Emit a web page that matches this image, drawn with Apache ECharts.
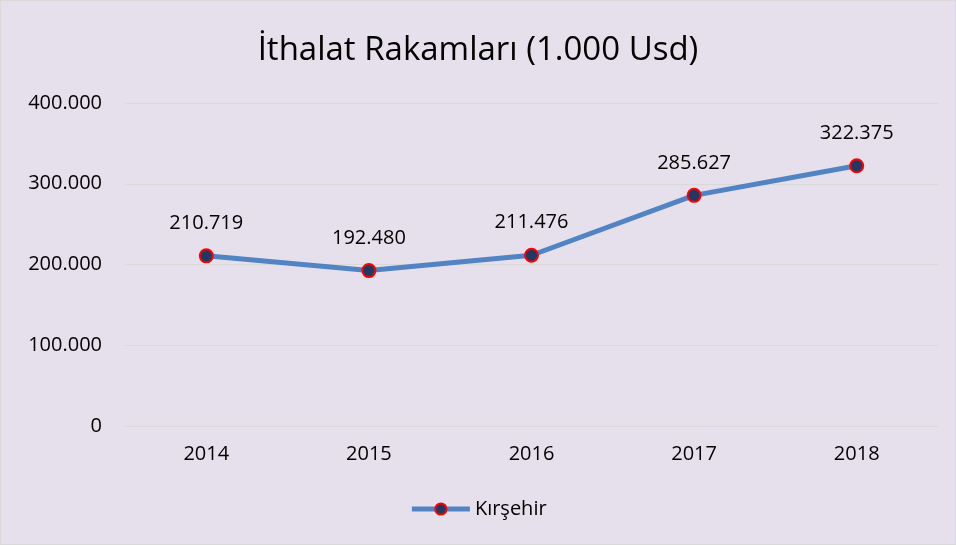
<!DOCTYPE html>
<html>
<head>
<meta charset="utf-8">
<script src="https://cdn.jsdelivr.net/npm/echarts@6/dist/echarts.min.js"></script>
<style>
  html, body { margin: 0; padding: 0; background: #fff; }
  #app { width: 954px; height: 543px; border: 1px solid #d9d9d9; background: #e6e0ec; }
</style>
</head>
<body>
<div id="app"></div>
<script>
const years = ['2014', '2015', '2016', '2017', '2018'];
const kirsehir = [210719, 192480, 211476, 285627, 322375];
const yTicks = [0, 100000, 200000, 300000, 400000];

const fmt = v => v === 0 ? '0' : String(v).replace(/\B(?=(\d{3})+(?!\d))/g, '.');

const chart = echarts.init(document.getElementById('app'));
chart.setOption({
  backgroundColor: '#e6e0ec',
  textStyle: { fontFamily: 'Open Sans, sans-serif' },
  title: {
    text: 'İthalat Rakamları (1.000 Usd)',
    left: 'center',
    top: 28,
    textStyle: { fontSize: 33, fontWeight: 'normal', color: '#000' }
  },
  legend: {
    bottom: 20,
    left: 'center',
    itemWidth: 58,
    itemHeight: 14,
    itemGap: 6,
    lineStyle: { width: 5 },
    textStyle: { fontSize: 20, color: '#000' },
    data: ['Kırşehir']
  },
  grid: { left: 124, right: 17, top: 102, bottom: 118 },
  xAxis: {
    type: 'category',
    data: years,
    axisLine: { lineStyle: { color: '#d9d9d9' } },
    axisTick: { show: false },
    axisLabel: { fontSize: 20, color: '#000', margin: 18 }
  },
  yAxis: {
    type: 'value',
    min: yTicks[0],
    max: yTicks[yTicks.length - 1],
    interval: 100000,
    axisLine: { show: false },
    axisTick: { show: false },
    splitLine: { lineStyle: { color: '#d9d9d9' } },
    axisLabel: { fontSize: 20, color: '#000', margin: 23, formatter: fmt }
  },
  series: [{
    name: 'Kırşehir',
    type: 'line',
    data: kirsehir,
    symbol: 'circle',
    symbolSize: 13,
    lineStyle: { color: '#5284c4', width: 5 },
    itemStyle: { color: '#203864', borderColor: '#ff0000', borderWidth: 2 },
    label: {
      show: true,
      position: 'top',
      distance: 15,
      fontSize: 20,
      color: '#000',
      formatter: p => fmt(p.value)
    }
  }]
});
</script>
</body>
</html>
